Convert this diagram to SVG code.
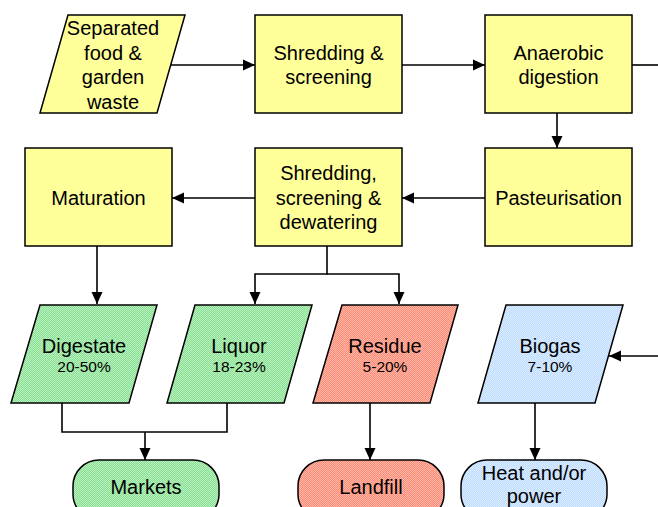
<svg xmlns="http://www.w3.org/2000/svg" width="658" height="507" viewBox="0 0 658 507">
  <defs>
    <!-- dithered fills -->
    <pattern id="fillYellow" width="2" height="2" patternUnits="userSpaceOnUse">
      <rect width="2" height="2" fill="#ffff80"/>
      <rect width="1" height="1" fill="#ffffb4"/>
      <rect x="1" y="1" width="1" height="1" fill="#ffffb4"/>
    </pattern>
    <pattern id="fillGreen" width="2" height="2" patternUnits="userSpaceOnUse">
      <rect width="2" height="2" fill="#86e092"/>
      <rect width="1" height="1" fill="#bcf0c0"/>
      <rect x="1" y="1" width="1" height="1" fill="#bcf0c0"/>
    </pattern>
    <pattern id="fillRed" width="2" height="2" patternUnits="userSpaceOnUse">
      <rect width="2" height="2" fill="#ff8a76"/>
      <rect width="1" height="1" fill="#ffb8a8"/>
      <rect x="1" y="1" width="1" height="1" fill="#ffb8a8"/>
    </pattern>
    <pattern id="fillBlue" width="2" height="2" patternUnits="userSpaceOnUse">
      <rect width="2" height="2" fill="#b8daff"/>
      <rect width="1" height="1" fill="#e0eeff"/>
      <rect x="1" y="1" width="1" height="1" fill="#e0eeff"/>
    </pattern>
    <marker id="arrow" markerWidth="12" markerHeight="12" refX="12" refY="6" orient="auto" markerUnits="userSpaceOnUse">
      <path d="M0,0.5 L12,6 L0,11.5 Z" fill="#000"/>
    </marker>
  </defs>
  <style>
    .shape { stroke: #000; stroke-width: 1.5; }
    .y { fill: url(#fillYellow); }
    .g { fill: url(#fillGreen); }
    .r { fill: url(#fillRed); }
    .b { fill: url(#fillBlue); }
    text { font-family: "Liberation Sans", Arial, sans-serif; fill: #000; text-anchor: middle; }
    .lbl { font-size: 20px; }
    .pct { font-size: 15.5px; }
    .conn { fill: none; stroke: #000; stroke-width: 1.6; }
  </style>

  <rect width="658" height="507" fill="#fff"/>

  <g id="connectors">
    <line class="conn" x1="171" y1="65" x2="255" y2="65" marker-end="url(#arrow)"/>
    <line class="conn" x1="402" y1="65" x2="485" y2="65" marker-end="url(#arrow)"/>
    <line class="conn" x1="632" y1="65" x2="660" y2="65"/>
    <line class="conn" x1="557" y1="113" x2="557" y2="148" marker-end="url(#arrow)"/>
    <line class="conn" x1="485" y1="198" x2="402" y2="198" marker-end="url(#arrow)"/>
    <line class="conn" x1="255" y1="198" x2="172" y2="198" marker-end="url(#arrow)"/>
    <line class="conn" x1="97" y1="246" x2="97" y2="304" marker-end="url(#arrow)"/>
    <polyline class="conn" points="327,246 327,274 255,274 255,304" marker-end="url(#arrow)"/>
    <polyline class="conn" points="327,274 399,274 399,304" marker-end="url(#arrow)"/>
    <polyline class="conn" points="62,403 62,432 227,432 227,403"/>
    <line class="conn" x1="145" y1="432" x2="145" y2="460" marker-end="url(#arrow)"/>
    <line class="conn" x1="370" y1="403" x2="370" y2="460" marker-end="url(#arrow)"/>
    <line class="conn" x1="535" y1="403" x2="535" y2="460" marker-end="url(#arrow)"/>
    <line class="conn" x1="660" y1="356" x2="609" y2="356" marker-end="url(#arrow)"/>
  </g>

  <g id="separated-waste">
    <polygon class="shape y" points="68,15 185,15 157,113 40,113"/>
    <text class="lbl" x="113" y="35">Separated</text>
    <text class="lbl" x="113" y="59.5">food &amp;</text>
    <text class="lbl" x="113" y="84">garden</text>
    <text class="lbl" x="113" y="108.5">waste</text>
  </g>

  <g id="shredding-screening">
    <rect class="shape y" x="255" y="15" width="147" height="98"/>
    <text class="lbl" x="328.5" y="60">Shredding &amp;</text>
    <text class="lbl" x="328.5" y="84">screening</text>
  </g>

  <g id="anaerobic-digestion">
    <rect class="shape y" x="485" y="15" width="147" height="98"/>
    <text class="lbl" x="558.5" y="60">Anaerobic</text>
    <text class="lbl" x="558.5" y="84">digestion</text>
  </g>

  <g id="pasteurisation">
    <rect class="shape y" x="485" y="148" width="147" height="98"/>
    <text class="lbl" x="558.5" y="205">Pasteurisation</text>
  </g>

  <g id="shredding-dewatering">
    <rect class="shape y" x="255" y="148" width="147" height="98"/>
    <text class="lbl" x="328.5" y="180">Shredding,</text>
    <text class="lbl" x="328.5" y="205">screening &amp;</text>
    <text class="lbl" x="328.5" y="229">dewatering</text>
  </g>

  <g id="maturation">
    <rect class="shape y" x="25" y="148" width="147" height="98"/>
    <text class="lbl" x="98.5" y="205">Maturation</text>
  </g>

  <g id="digestate">
    <polygon class="shape g" points="40,305 157,305 129,403 11,403"/>
    <text class="lbl" x="84" y="353">Digestate</text>
    <text class="pct" x="84" y="372">20-50%</text>
  </g>

  <g id="liquor">
    <polygon class="shape g" points="195,305 312,305 284,403 167,403"/>
    <text class="lbl" x="239" y="353">Liquor</text>
    <text class="pct" x="239" y="372">18-23%</text>
  </g>

  <g id="residue">
    <polygon class="shape r" points="342,305 458,305 430,403 313,403"/>
    <text class="lbl" x="385" y="353">Residue</text>
    <text class="pct" x="385" y="372">5-20%</text>
  </g>

  <g id="biogas">
    <polygon class="shape b" points="506,305 623,305 595,403 478,403"/>
    <text class="lbl" x="550" y="353">Biogas</text>
    <text class="pct" x="550" y="372">7-10%</text>
  </g>

  <g id="markets">
    <rect class="shape g" x="73" y="460" width="146" height="60" rx="26" ry="26"/>
    <text class="lbl" x="146" y="494">Markets</text>
  </g>

  <g id="landfill">
    <rect class="shape r" x="298" y="460" width="146" height="60" rx="26" ry="26"/>
    <text class="lbl" x="371" y="494">Landfill</text>
  </g>

  <g id="heat-power">
    <rect class="shape b" x="461" y="460" width="146" height="60" rx="26" ry="26"/>
    <text class="lbl" x="534" y="480">Heat and/or</text>
    <text class="lbl" x="534" y="503">power</text>
  </g>
</svg>
